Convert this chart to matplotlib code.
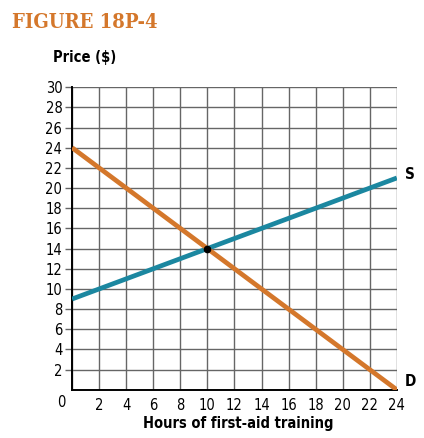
import matplotlib.pyplot as plt

hours = [0, 24]
supply_price = [9, 21]
demand_price = [24, 0]
eq_hours = 10
eq_price = 14
x_ticks = list(range(0, 25, 2))
y_ticks = list(range(2, 31, 2))

ORANGE = "#D4772B"
TEAL = "#1B87A0"
NARROW = dict(family="DejaVu Sans", stretch="condensed")

fig = plt.figure(figsize=(4.24, 4.38), dpi=100)
ax = fig.add_axes([0.170, 0.110, 0.766, 0.691])

ax.plot(hours, supply_price, color=TEAL, lw=3.4, solid_capstyle="butt", zorder=3)
ax.plot(hours, demand_price, color=ORANGE, lw=3.4, solid_capstyle="butt", zorder=3)
ax.plot([eq_hours], [eq_price], "o", color="black", ms=4.5, zorder=4)

ax.set_xlim(0, 24)
ax.set_ylim(0, 30)
ax.set_xticks(x_ticks)
ax.set_yticks(y_ticks)
ax.set_xticklabels([""] + [str(v) for v in x_ticks[1:]], fontsize=10.5, **NARROW)
ax.set_yticklabels([str(v) for v in y_ticks], fontsize=10.5, **NARROW)
ax.grid(True, color="#666666", lw=1.0)
ax.tick_params(axis="y", length=5, width=1.0, color="#666666", pad=2)
ax.tick_params(axis="x", length=0, pad=6)
for side in ["top", "right"]:
    ax.spines[side].set_visible(False)
for side in ["left", "bottom"]:
    ax.spines[side].set_color("black")
    ax.spines[side].set_linewidth(1.4)

ax.text(-0.5, -1.25, "0", fontsize=10.5, ha="right", va="center", **NARROW)
ax.text(24.6, 21.3, "S", fontsize=11, fontweight="bold", ha="left", va="center", **NARROW)
ax.text(24.6, 0.8, "D", fontsize=11, fontweight="bold", ha="left", va="center", **NARROW)

fig.text(0.028, 0.950, "FIGURE 18P-4", family="DejaVu Serif", fontsize=14.5,
         fontweight="bold", color=ORANGE, ha="left", va="center", stretch="condensed")
fig.text(0.125, 0.868, "Price ($)", fontsize=10.5, fontweight="bold",
         ha="left", va="center", **NARROW)
fig.text(0.563, 0.032, "Hours of first-aid training", fontsize=10.5,
         fontweight="bold", ha="center", va="center", **NARROW)

fig.savefig("out.png", dpi=100)
